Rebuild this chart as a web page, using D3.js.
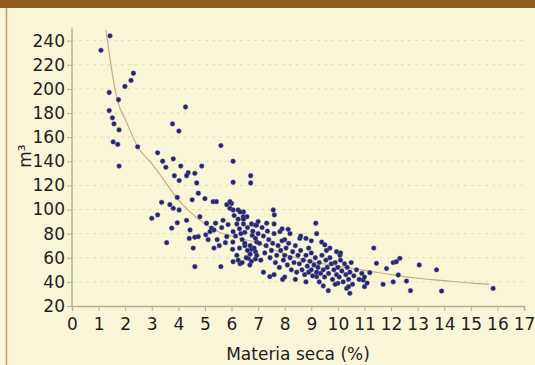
<!DOCTYPE html>
<html><head><meta charset="utf-8">
<script src="https://cdn.jsdelivr.net/npm/d3@7"></script>
<style>
html,body{margin:0;padding:0;background:#f8f6d6;}
svg{display:block;}
</style></head>
<body>
<svg id="c" width="535" height="365"></svg>
<script>
const xTicks = d3.range(0, 18);
const yTicks = [20,40,60,80,100,120,140,160,180,200,220,240];
const xLabel = "Materia seca (%)";
const yLabel = "m³";

// scatter values: materia seca (%)
const msValues = [
1.43,1.09,2.31,2.22,1.99,1.40,1.75,1.40,1.52,1.58,1.77,1.55,1.72,1.77,2.47,
4.27,3.78,4.02,5.60,3.22,3.41,3.81,3.53,4.09,4.88,6.06,
3.85,4.03,4.37,4.31,4.62,4.69,6.06,6.72,6.72,3.96,3.37,3.68,3.81,4.03,3.22,3.00,4.31,4.52,4.75,5.00,
3.96,3.75,3.56,4.44,4.41,4.62,4.75,4.56,4.62,5.34,5.54,5.60,5.03,5.12,5.25,5.34,5.63,5.82,6.06,6.04,6.06,6.32,6.40,6.63,6.69,6.90,
5.31,5.43,5.82,6.00,5.94,6.25,6.45,6.58,6.25,6.45,6.75,6.90,6.50,6.78,6.95,6.50,6.75,6.90,6.70,
4.81,5.06,5.19,5.40,5.46,5.68,5.77,5.87,
5.94,6.06,6.32,6.44,7.57,7.61,9.17,7.32,6.94,7.82,8.13,8.00,8.57,8.80,9.39,9.51,9.95,10.08,9.57,
11.35,11.45,11.83,12.08,12.20,12.33,13.06,13.71,12.27,12.58,12.73,13.90,15.84,12.08,11.70,11.20,10.95,11.00,10.45,10.33,10.00,9.64,9.45,7.92,7.44,9.20,
6.10,6.20,6.30,6.15,6.40,6.50,6.30,6.20,6.60,6.70,6.80,6.90,7.00,7.05,6.85,6.95,7.10,6.75,6.55,6.45,6.60,6.35,6.05,6.25,7.00,7.15,7.20,7.30,7.25,7.40,7.35,7.45,7.50,7.55,7.60,7.65,7.70,7.75,7.80,7.85,7.90,7.95,
8.00,8.05,8.10,8.15,8.20,8.25,8.30,8.35,8.40,8.45,8.50,8.55,8.60,8.65,8.70,8.75,8.80,8.85,8.90,8.95,9.00,9.05,9.10,9.15,9.20,9.25,9.00,8.90,9.30,9.35,9.40,9.45,9.50,9.55,9.60,9.65,9.70,9.75,9.80,9.85,9.90,9.95,
10.00,10.05,10.10,10.15,10.20,10.25,10.30,10.35,10.40,10.45,10.50,10.55,10.60,10.70,10.80,10.90,11.00,11.10,
7.60,7.90,8.20,8.60,9.00,9.20,9.70,10.10,7.20,7.60,8.00,8.40,8.80,9.30,9.90,10.40
];
// scatter values: volume (m³)
const volValues = [
244,232,213,207,202,197,191,182,176,171,166,156,154,136,152,
185,171,165,153,147,140,142,135,136,136,140,
128,124,130.5,128,130,122,122.6,128,122,110,106,104,101,99.6,95.5,92.7,91,108,113.5,109,
89,84.5,72.5,83,76,77,77.5,68,52.6,68,70,52.6,79,75,84.5,83,85,77.5,81.6,67,56.7,55,56,59.5,54,59,
106.5,106.5,104,105,101,99.6,98,94,92,88,88,87,81,78.5,73,70,67,65,63,
94,88.6,81.6,88.6,75,91,72.5,87.5,
106.5,99.6,98,94,99.6,95.5,88.6,88.6,87,81.6,83.6,75,76,76,73,70.6,65,62,66,
68,55.4,51,56,56.7,59.5,54,50,45.7,40.7,32.7,32.4,34.6,40,38,47.6,41.5,36,30.5,34.6,38.8,32.7,36.6,42,44.3,44.3,
95,88,84,78,75,72,68,62,66,70,82,76,80,72,68,62,58,57,60,92,85,80,73,58,90,85,78,70,64,75,82,60,66,72,80,56,62,70,52,66,74,58,
62,68,54,72,60,50,65,56,70,48,62,55,66,50,58,46,62,53,48,57,50,45,54,60,48,52,64,68,56,47,62,50,44,58,52,47,60,55,42,50,56,46,
52,44,58,49,40,55,46,52,42,48,56,38,45,50,42,47,44,39,
88,84,80,78,74,80,68,64,48,46,44,42,40,40,38,36
];
// trend curve
const trendX = [1.28,1.5,1.74,2.0,2.47,3.0,3.31,4.0,4.44,5.0,5.56,6.0,7.0,8.0,9.0,10.0,10.9,12.0,13.0,14.0,15.0,15.7];
const trendY = [249,215,188,175,152,138,129,108,98,88,81,78,72,63,57,53,50,46,43,41,39,38];

const svg = d3.select("#c");
const W = 535, H = 365;
svg.append("rect").attr("width",W).attr("height",H).attr("fill","#f8f6d6");
svg.append("rect").attr("x",0).attr("y",0).attr("width",W).attr("height",8).attr("fill","#8f5c20");
svg.append("line").attr("x1",6.5).attr("x2",6.5).attr("y1",8).attr("y2",H).attr("stroke","#c99a60").attr("stroke-width",1.5);

const x = d3.scaleLinear().domain([0,17]).range([72,524]);
const y = d3.scaleLinear().domain([20,250]).range([306,28.6]);

// grid
svg.append("g").selectAll("line").data(yTicks.filter(d=>d>20)).join("line")
  .attr("x1",x(0)).attr("x2",x(17)).attr("y1",d=>y(d)).attr("y2",d=>y(d))
  .attr("stroke","#e2dcb4").attr("stroke-width",1).attr("stroke-dasharray","3,4");

const axisColor = "#b8b38e";
const fontFam = "'DejaVu Sans', sans-serif";

const gx = svg.append("g").attr("transform",`translate(0,${y(20)})`)
  .call(d3.axisBottom(x).tickValues(xTicks).tickFormat(d3.format("d")).tickSize(5).tickPadding(7));
const gy = svg.append("g").attr("transform",`translate(${x(0)},0)`)
  .call(d3.axisLeft(y).tickValues(yTicks).tickFormat(d3.format("d")).tickSize(5).tickPadding(2));
[gx,gy].forEach(g=>{
  g.select(".domain").attr("stroke",axisColor).attr("stroke-width",1.5);
  g.selectAll(".tick line").attr("stroke",axisColor);
  g.selectAll("text").attr("fill","#1e1e1e").style("font-family",fontFam).style("font-size","17px");
});
gy.select(".domain").attr("d",`M0,${y(20)}V${y(250)}`);

// trend line
const pts = trendX.map((v,i)=>[v,trendY[i]]);
svg.append("path").datum(pts)
  .attr("d",d3.line().x(d=>x(d[0])).y(d=>y(d[1])).curve(d3.curveMonotoneX))
  .attr("fill","none").attr("stroke","#c8ad80").attr("stroke-width",1.2);

// points
const data = msValues.map((v,i)=>({ms:v, vol:volValues[i]}));
svg.append("g").selectAll("circle").data(data).join("circle")
  .attr("cx",d=>x(d.ms)).attr("cy",d=>y(d.vol)).attr("r",2.4)
  .attr("fill","#26266a").attr("stroke","#6a6ab8").attr("stroke-opacity",0.5).attr("stroke-width",0.8);

// labels
svg.append("text").attr("x",298).attr("y",360).attr("text-anchor","middle")
  .style("font-family",fontFam).style("font-size","17px").attr("fill","#1e1e1e").text(xLabel);
svg.append("text").attr("transform","translate(31,156) rotate(-90)").attr("text-anchor","middle")
  .style("font-family",fontFam).style("font-size","17px").attr("fill","#1e1e1e").text(yLabel);
</script>
</body></html>
